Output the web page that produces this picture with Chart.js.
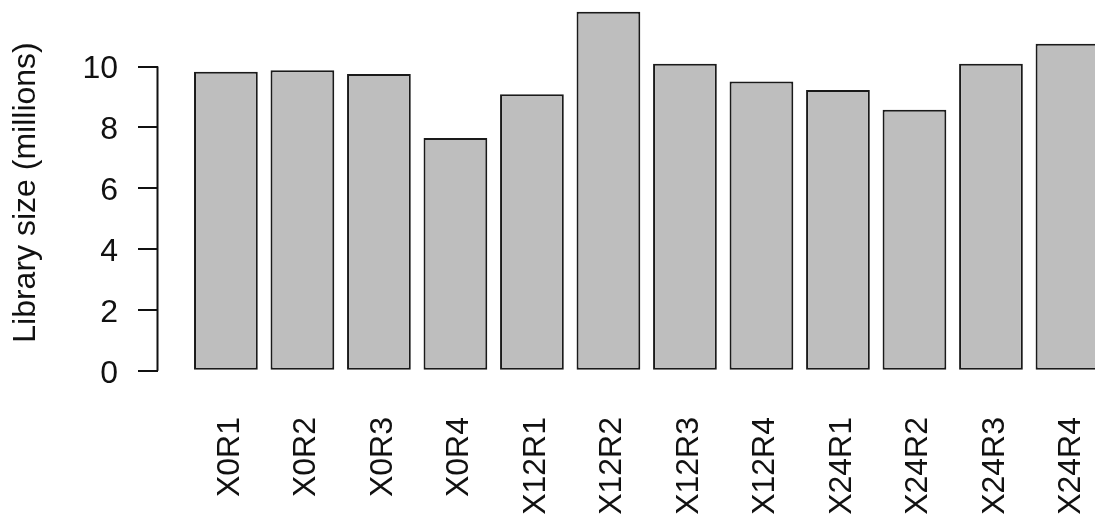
<!DOCTYPE html>
<html>
<head>
<meta charset="utf-8">
<script src="https://cdn.jsdelivr.net/npm/chart.js@4/dist/chart.umd.min.js"></script>
<style>
  html, body { margin: 0; padding: 0; background: #fff; overflow: hidden; }
  #wrap { width: 1095px; height: 521px; overflow: hidden; }
  canvas { display: block; }
</style>
</head>
<body>
<div id="wrap"><canvas id="c" width="1136" height="521"></canvas></div>
<script>
// Library sizes per sample, in millions of reads
const samples = ['X0R1', 'X0R2', 'X0R3', 'X0R4', 'X12R1', 'X12R2', 'X12R3', 'X12R4', 'X24R1', 'X24R2', 'X24R3', 'X24R4'];
const librarySize = [9.83, 9.88, 9.76, 7.65, 9.09, 11.80, 10.09, 9.51, 9.23, 8.58, 10.09, 10.75];
const yTicks = [0, 2, 4, 6, 8, 10];

// barplot-style layout: unit-wide bars separated by 0.2 spaces
const SPACE = 0.2, WIDTH = 1;
const centers = samples.map((_, i) => SPACE + (SPACE + WIDTH) * i + WIDTH / 2);

const FONT = { family: '"Liberation Sans", Arial, sans-serif', size: 32 };

// y axis line spanning only the labelled tick range
const axisLine = {
  id: 'axisLine',
  afterDraw(chart) {
    const y = chart.scales.y;
    const ctx = chart.ctx;
    const x = Math.round(chart.chartArea.left) - 0.5;
    ctx.save();
    ctx.strokeStyle = '#111';
    ctx.lineWidth = 2;
    ctx.beginPath();
    ctx.moveTo(x, y.getPixelForValue(yTicks[0]));
    ctx.lineTo(x, y.getPixelForValue(yTicks[yTicks.length - 1]));
    ctx.stroke();
    ctx.restore();
  }
};

new Chart(document.getElementById('c'), {
  type: 'bar',
  data: {
    datasets: [{
      data: librarySize.map((v, i) => ({ x: centers[i], y: v })),
      backgroundColor: '#bebebe',
      borderColor: '#1a1a1a',
      borderWidth: 2,
      borderSkipped: false,
      categoryPercentage: 1,
      barPercentage: WIDTH / (WIDTH + SPACE)
    }]
  },
  options: {
    responsive: false,
    animation: false,
    layout: { padding: 0 },
    plugins: { legend: { display: false }, tooltip: { enabled: false } },
    scales: {
      x: {
        type: 'linear',
        offset: false,
        min: -0.365,
        max: 14.975,
        afterBuildTicks: s => { s.ticks = centers.map(v => ({ value: v })); },
        afterFit: s => {
          s.height = 136;
          s.paddingLeft = 0; s.paddingRight = 0; s.paddingTop = 0; s.paddingBottom = 0;
        },
        grid: { display: false, drawTicks: false },
        border: { display: false },
        ticks: {
          autoSkip: false,
          minRotation: 90,
          maxRotation: 90,
          padding: 32,
          labelOffset: 4,
          color: '#111',
          font: FONT,
          callback: (v, i) => samples[i]
        }
      },
      y: {
        min: -0.47,
        max: 12.19,
        afterBuildTicks: s => { s.ticks = yTicks.map(v => ({ value: v })); },
        afterFit: s => {
          s.width = 158;
          s.paddingLeft = 0; s.paddingRight = 0; s.paddingTop = 0; s.paddingBottom = 0;
        },
        grid: { drawOnChartArea: false, tickLength: 20, color: '#111', lineWidth: 2 },
        border: { display: false },
        ticks: {
          padding: 20,
          labelOffset: 3,
          color: '#111',
          font: FONT,
          callback: v => String(v)
        },
        title: {
          display: true,
          text: 'Library size (millions)',
          color: '#111',
          font: FONT,
          padding: { top: 7, bottom: 0 }
        }
      }
    }
  },
  plugins: [axisLine]
});
</script>
</body>
</html>
